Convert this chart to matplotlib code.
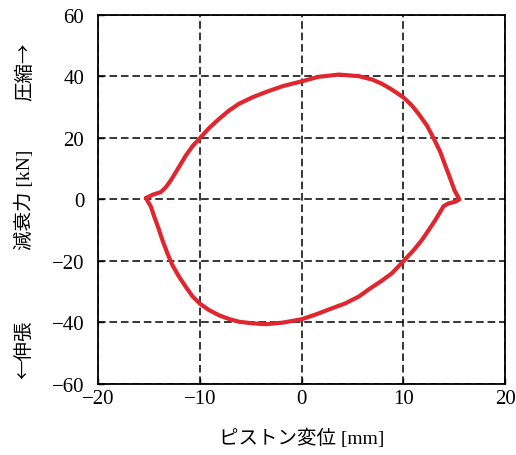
import numpy as np
import matplotlib
matplotlib.use("Agg")
import matplotlib.pyplot as plt

plt.rcParams['font.family'] = ['Liberation Serif', 'Noto Sans CJK JP', 'DejaVu Sans']

# upper branch (compression), left -> right
x_up = [-15.29, -14.65, -13.82, -13.33, -12.85, -12.35, -11.86, -11.37, -10.72, -10.0,
        -9.09, -8.11, -7.13, -6.15, -4.84, -3.53, -1.90, 0.0, 1.70, 3.66, 5.62, 6.92,
        7.90, 8.88, 10.0, 10.85, 11.50, 12.32, 12.97, 13.63, 14.12, 14.61, 15.03, 15.50]
y_up = [0.45, 1.5, 2.4, 4.0, 6.2, 8.9, 11.6, 14.3, 17.3, 19.9,
        23.2, 26.2, 28.9, 31.1, 33.2, 34.9, 36.8, 38.4, 39.9, 40.6, 40.1, 39.0,
        37.6, 35.7, 33.2, 30.5, 27.8, 24.0, 19.9, 15.4, 11.0, 6.7, 2.9, 0.0]
# lower branch (extension), right -> left
x_dn = [15.50, 15.10, 14.44, 13.95, 13.63, 13.14, 12.48, 11.82, 11.01, 10.0, 8.88,
        7.90, 6.76, 5.62, 4.31, 3.0, 1.50, 0.0, -1.90, -3.53, -4.84, -6.15, -7.13,
        -8.11, -9.09, -10.0, -10.72, -11.37, -12.03, -12.69, -13.18, -13.67, -14.06,
        -14.48, -14.80, -15.29]
y_dn = [0.0, -0.75, -1.3, -2.2, -4.0, -6.7, -10.0, -13.2, -16.5, -20.1, -24.0,
        -26.4, -28.9, -31.6, -33.8, -35.4, -37.3, -39.0, -40.1, -40.6, -40.3, -39.8, -38.9,
        -37.7, -36.0, -33.9, -31.5, -28.5, -25.2, -21.4, -17.6, -13.3, -9.4,
        -5.6, -2.4, 0.45]

x_loop = x_up + x_dn[1:]
y_loop = y_up + y_dn[1:]

fig = plt.figure(figsize=(5.16, 4.56), dpi=100)
ax = fig.add_axes([0.190, 0.156, 0.789, 0.809])

ax.plot(x_loop, y_loop, color='#e0262e', linewidth=3.0,
        solid_joinstyle='round', solid_capstyle='round')

ax.set_xlim(-20, 20)
ax.set_ylim(-60, 60)
ax.set_xticks([-20, -10, 0, 10, 20])
ax.set_yticks([-60, -40, -20, 0, 20, 40, 60])
ax.set_xticklabels(['\u221220', '\u221210', '0', '10', '20'])
ax.set_yticklabels(['\u221260', '\u221240', '\u221220', '0', '20', '40', '60'])
ax.grid(True, color='black', linestyle=(0, (5, 2.5)), linewidth=1.1)
ax.set_axisbelow(True)
ax.tick_params(direction='in', length=4, width=1, labelsize=15, pad=4)
ax.tick_params(axis='y', pad=10)
for s in ax.spines.values():
    s.set_linewidth(1.3)

ax.set_xlabel('ピストン変位 [mm]', fontsize=14, labelpad=14)

fig.text(0.047, 0.842, '圧縮\u2192', rotation=90, ha='center', va='center',
         fontsize=14, family=['Noto Sans CJK JP'])
fig.text(0.047, 0.561, '減衰力 [kN]', rotation=90, ha='center', va='center', fontsize=14)
fig.text(0.047, 0.232, '\u2190伸張', rotation=90, ha='center', va='center',
         fontsize=14, family=['Noto Sans CJK JP'])

fig.savefig('out.png', dpi=100)
